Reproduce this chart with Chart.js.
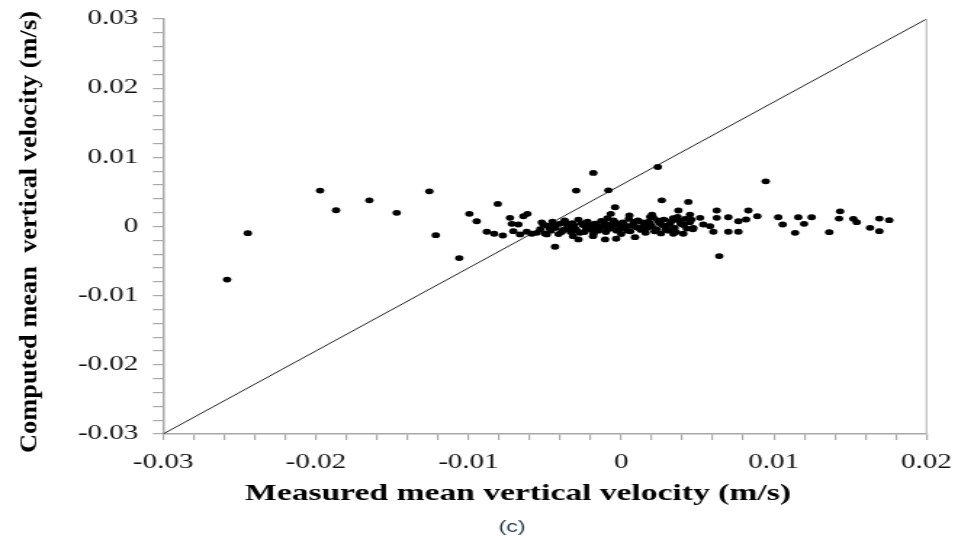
<!DOCTYPE html>
<html>
<head>
<meta charset="utf-8">
<script src="https://cdn.jsdelivr.net/npm/chart.js@4.4.1/dist/chart.umd.min.js"></script>
<style>
html,body{margin:0;padding:0;background:#fff;overflow:hidden;}
#wrap{width:660px;height:541px;transform:scale(1.4515,1);transform-origin:0 0;}
</style>
</head>
<body>
<div id="wrap"><canvas id="c" width="660" height="541"></canvas></div>
<script>
// ---- data ----
const measuredVel = [
 -0.02581,-0.02445,-0.01972,-0.01867,-0.01649,-0.01470,-0.01256,-0.01214,-0.01060,-0.00994,
 -0.00946,-0.00808,-0.00880,-0.00832,-0.00775,-0.00728,-0.00716,-0.00673,-0.00640,-0.00614,
 -0.00706,-0.00662,-0.00618,-0.00585,-0.00553,-0.00182,-0.00295,-0.00084,0.00240,0.00266,
 -0.00040,-0.00068,0.00054,0.00202,-0.00433,-0.00280,-0.00105,-0.00033,0.00091,-0.00487,
 -0.00315,-0.00184,0.00947,0.00440,0.00643,0.00626,0.00833,0.00892,0.01029,0.01058,
 0.01160,0.01139,0.00604,0.00702,0.00768,0.00626,0.00702,0.00768,0.00818,0.00375,
 0.00451,0.00517,0.00353,0.00407,0.00473,0.00538,0.00582,0.00342,0.00407,0.01248,
 0.01198,0.01434,0.01427,0.01521,0.01543,0.01363,0.01630,0.01691,0.01756,0.01691,
 -0.0053,-0.0051,-0.0050,-0.0048,-0.0046,-0.0045,-0.0043,-0.0041,-0.0040,-0.0038,
 -0.0037,-0.0035,-0.0033,-0.0032,-0.0030,-0.0028,-0.0027,-0.0025,-0.0023,-0.0022,
 -0.0020,-0.0018,-0.0017,-0.0015,-0.0013,-0.0012,-0.0010,-0.0008,-0.0007,-0.0005,
 -0.0003,-0.0002,0.0000,0.0001,0.0003,0.0005,0.0006,0.0008,0.0010,0.0011,
 0.0013,0.0015,0.0016,0.0018,0.0020,0.0021,0.0023,0.0025,0.0026,0.0028,
 0.0030,0.0031,0.0033,0.0035,0.0037,0.0039,0.0042,0.0045,0.0047,0.0019,-0.0009,
 -0.0052,-0.0047,-0.0044,-0.0039,-0.0036,-0.0034,-0.0031,-0.0029,-0.0026,-0.0024,
 -0.0021,-0.0019,-0.0016,-0.0014,-0.0011,-0.0009,-0.0006,-0.0004,-0.0001,0.0002,
 0.0004,0.0007,0.0009,0.0012,0.0014,0.0017,0.0019,0.0022,0.0024,0.0027,
 0.0029,0.0032,0.0034,0.0036,0.0038,0.0041,0.0043,0.0046
];
const computedVel = [
 -0.00768,-0.00097,0.00519,0.00235,0.00379,0.00197,0.00509,-0.00125,-0.00457,0.00183,
 0.00076,0.00327,-0.00076,-0.00105,-0.00130,0.00125,0.00039,0.00029,0.00148,0.00183,
 -0.00068,-0.00115,-0.00076,-0.00105,-0.00091,0.00774,0.00519,0.00523,0.00860,0.00379,
 0.00278,0.00183,0.00159,0.00173,-0.00293,-0.00187,-0.00187,-0.00177,-0.00154,-0.00115,
 -0.00140,-0.00140,0.00653,0.00356,-0.00428,0.00231,0.00231,0.00148,0.00134,0.00029,
 0.00134,-0.00091,-0.00076,-0.00076,-0.00076,0.00125,0.00134,0.00076,0.00101,0.00231,
 0.00173,0.00125,0.00101,0.00029,-0.00019,0.00029,0.00004,-0.00105,-0.00105,0.00134,
 0.00039,0.00220,0.00115,0.00111,0.00062,-0.00082,-0.00019,0.00115,0.00091,-0.00068,
 -0.0004,0.0003,-0.0010,0.0001,-0.0006,0.0007,-0.0002,-0.0011,0.0004,-0.0005,
 0.0009,0.0000,-0.0008,0.0005,-0.0003,0.0010,-0.0009,0.0002,-0.0004,0.0007,
 -0.0001,-0.0010,0.0004,-0.0006,0.0008,0.0000,-0.0008,0.0003,-0.0003,0.0009,
 -0.0006,0.0002,-0.0011,0.0006,-0.0002,0.0011,-0.0007,0.0004,-0.0001,0.0009,
 -0.0005,0.0003,-0.0009,0.0007,0.0000,0.0013,-0.0004,0.0005,-0.0010,0.0010,
 0.0001,-0.0006,0.0008,-0.0002,0.0014,0.0004,0.0011,0.0006,-0.0004,0.0014,0.0012,
 0.0006,-0.0002,0.0003,-0.0008,0.0005,-0.0004,0.0002,-0.0006,0.0005,-0.0008,
 0.0003,-0.0005,0.0001,-0.0002,0.0005,-0.0004,0.0001,0.0006,-0.0004,0.0003,
 -0.0006,0.0001,0.0007,-0.0003,0.0006,-0.0002,0.0004,-0.0007,0.0009,0.0002,
 -0.0004,0.0004,0.0012,-0.0008,0.0009,0.0002,-0.0003,0.0010
];
const lineX = [-0.03, 0.02];
const lineY = [-0.03, 0.03];
const xRange = [-0.03, 0.02];
const yRange = [-0.03, 0.03];
const xTitle = 'Measured mean vertical velocity (m/s)';
const yTitle = 'Computed mean  vertical velocity (m/s)';
const caption = '(c)';

// ---- chart ----
const S = 958 / 660;
const points = measuredVel.map((x, i) => ({x: x, y: computedVel[i]}));
const linePts = lineX.map((x, i) => ({x: x, y: lineY[i]}));
const fmt = v => {
  const r = Math.round(v * 100);
  if (Math.abs(v * 100 - r) > 1e-6) return '';
  return (r / 100).toString();
};
const axisGray = '#a8a8a8';

const decor = {
  id: 'decor',
  afterDraw(chart) {
    const ctx = chart.ctx, a = chart.chartArea;
    ctx.save();
    // right border
    ctx.strokeStyle = '#c4c4c4';
    ctx.lineWidth = 1.4;
    ctx.beginPath();
    ctx.moveTo(a.right, a.top);
    ctx.lineTo(a.right, a.bottom);
    ctx.stroke();
    ctx.restore();
    // x title, fitted to ~546px visual width
    ctx.save();
    ctx.fillStyle = '#000';
    ctx.textAlign = 'center';
    ctx.textBaseline = 'middle';
    ctx.font = 'bold 23px "Liberation Serif"';
    let w = ctx.measureText(xTitle).width;
    ctx.translate(518 / S, 494);
    ctx.scale((546 / S) / w, 1);
    ctx.fillText(xTitle, 0, 0);
    ctx.restore();
    // caption
    ctx.save();
    ctx.fillStyle = '#1f3350';
    ctx.textAlign = 'center';
    ctx.textBaseline = 'middle';
    ctx.font = '16px "Liberation Sans"';
    ctx.fillText(caption, 512 / S, 528);
    ctx.restore();
    // y title (undo horizontal stretch, fit to ~442px length)
    ctx.save();
    ctx.fillStyle = '#000';
    ctx.textAlign = 'center';
    ctx.textBaseline = 'middle';
    ctx.font = 'bold 24px "Liberation Serif"';
    w = ctx.measureText(yTitle).width;
    ctx.translate(30 / S, 232);
    ctx.scale(1 / S, 1);
    ctx.rotate(-Math.PI / 2);
    ctx.scale(442 / w, 0.95);
    ctx.fillText(yTitle, 0, 0);
    ctx.restore();
  }
};

new Chart(document.getElementById('c'), {
  type: 'scatter',
  data: {
    datasets: [
      {
        data: points,
        backgroundColor: '#000',
        borderColor: '#000',
        pointRadius: 2.9,
        pointBorderWidth: 0,
        pointHoverRadius: 2.9
      },
      {
        type: 'line',
        data: linePts,
        borderColor: '#222',
        borderWidth: 1,
        pointRadius: 0,
        fill: false
      }
    ]
  },
  options: {
    responsive: false,
    devicePixelRatio: 1,
    animation: false,
    layout: {padding: {left: 43.7, right: 21.7, top: 19, bottom: 55}},
    plugins: {legend: {display: false}, tooltip: {enabled: false}},
    scales: {
      x: {
        type: 'linear',
        min: xRange[0], max: xRange[1],
        afterFit: s => { s.paddingLeft = 0; s.paddingRight = 0; },
        border: {display: true, color: axisGray, width: 1.5},
        grid: {drawOnChartArea: false, drawTicks: true, tickLength: 6, color: axisGray, lineWidth: 1.2},
        ticks: {
          stepSize: 0.002, autoSkip: false, maxRotation: 0, padding: 11,
          color: '#111', font: {family: '"Liberation Serif"', size: 20},
          callback: v => fmt(v)
        }
      },
      y: {
        type: 'linear',
        min: yRange[0], max: yRange[1],
        afterFit: s => { s.paddingTop = 0; s.paddingBottom = 0; },
        border: {display: true, color: axisGray, width: 1.5},
        grid: {drawOnChartArea: false, drawTicks: true, tickLength: 7, color: axisGray, lineWidth: 1.2},
        ticks: {
          stepSize: 0.002, autoSkip: false, padding: 10,
          color: '#111', font: {family: '"Liberation Serif"', size: 20},
          callback: v => fmt(v)
        }
      }
    }
  },
  plugins: [decor]
});
</script>
</body>
</html>
